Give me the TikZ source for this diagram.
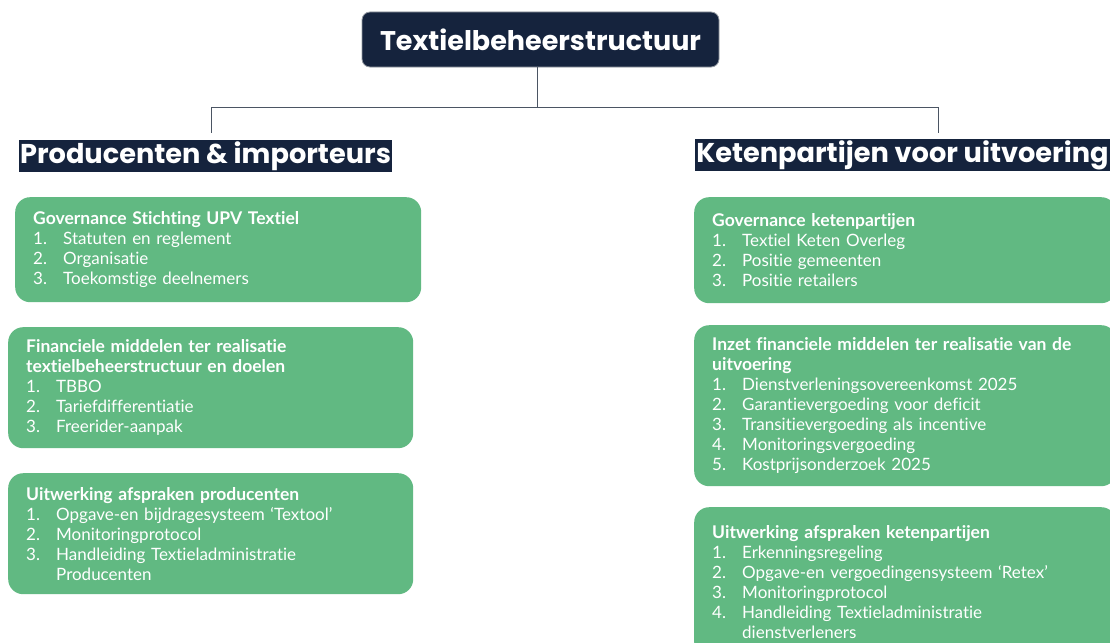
\documentclass[tikz,border=0pt]{standalone}
\usepackage{fontspec}
\setmainfont{Lato}[Ligatures=NoCommon]
\newfontfamily\headfont{Poppins}
\usetikzlibrary{positioning}
\definecolor{navy}{HTML}{15233D}
\definecolor{leaf}{HTML}{61B982}
\definecolor{wire}{HTML}{4B5563}
\tikzset{
  rootbox/.style={rectangle, rounded corners=8pt, draw=wire!60, line width=0.8pt, fill=navy, text=white,
    font=\headfont\bfseries\fontsize{27}{30}\selectfont, minimum width=357pt, minimum height=55pt, inner sep=0pt},
  lanehead/.style={rectangle, fill=navy, text=white,
    font=\headfont\bfseries\fontsize{27.2}{30}\selectfont, inner xsep=1pt, inner ysep=0pt, minimum height=32pt},
  taskbox/.style={rectangle, rounded corners=15pt, fill=leaf, text=white, anchor=north west,
    font=\fontsize{17}{20}\selectfont, align=left, inner xsep=18pt, inner ysep=4pt},
  ln/.style={draw=wire, line width=0.8pt},
}
\newcommand{\TB}[1]{{\bfseries\fontsize{17.5}{20}\selectfont #1}}
\newcommand{\IT}[2]{\makebox[30pt][l]{#1.}#2}
\begin{document}
\begin{tikzpicture}[x=1pt, y=-1pt]
\useasboundingbox[fill=white] (0,0) rectangle (1110,642);
\clip (0,0) rectangle (1110,642);

%% ===== NODES =====
\node[rootbox] (ROOT) at (540.5,39.5) {Textielbeheerstructuur};

% -- heads --
\node[lanehead] (HL) at (205.5,156) {Producenten \& importeurs};
\node[lanehead] (HR) at (902.5,155) {Ketenpartijen voor uitvoering};

% -- producenten --
\node[taskbox, text width=370pt, minimum height=105pt] (P1) at (15,197) {%
  \TB{Governance Stichting UPV Textiel}\\
  \IT{1}{Statuten en reglement}\\
  \IT{2}{Organisatie}\\
  \IT{3}{Toekomstige deelnemers}};
\node[taskbox, text width=369pt, minimum height=121pt] (P2) at (8,327) {%
  \TB{Financiele middelen ter realisatie}\\
  \TB{textielbeheerstructuur en doelen}\\
  \IT{1}{TBBO}\\
  \IT{2}{Tariefdifferentiatie}\\
  \IT{3}{Freerider-aanpak}};
\node[taskbox, text width=369pt, minimum height=121pt] (P3) at (8,473) {%
  \TB{Uitwerking afspraken producenten}\\
  \IT{1}{Opgave-en bijdragesysteem ‘Textool’}\\
  \IT{2}{Monitoringprotocol}\\
  \IT{3}{Handleiding Textieladministratie}\\
  \hspace*{30pt}Producenten};

% -- ketenpartijen --
\node[taskbox, text width=386pt, minimum height=106pt] (K1) at (694,197) {%
  \TB{Governance ketenpartijen}\\
  \IT{1}{Textiel Keten Overleg}\\
  \IT{2}{Positie gemeenten}\\
  \IT{3}{Positie retailers}};
\node[taskbox, text width=386pt, minimum height=161pt] (K2) at (694,325) {%
  \TB{Inzet financiele middelen ter realisatie van de}\\
  \TB{uitvoering}\\
  \IT{1}{Dienstverleningsovereenkomst 2025}\\
  \IT{2}{Garantievergoeding voor deficit}\\
  \IT{3}{Transitievergoeding als incentive}\\
  \IT{4}{Monitoringsvergoeding}\\
  \IT{5}{Kostprijsonderzoek 2025}};
\node[taskbox, text width=386pt, minimum height=150pt] (K3) at (694,507) {%
  \TB{Uitwerking afspraken ketenpartijen}\\
  \IT{1}{Erkenningsregeling}\\
  \IT{2}{Opgave-en vergoedingensysteem ‘Retex’}\\
  \IT{3}{Monitoringprotocol}\\
  \IT{4}{Handleiding Textieladministratie}\\
  \hspace*{30pt}dienstverleners};

%% ===== TREE =====
\coordinate (JN) at (537,107);
\coordinate (LE) at (211,133);
\coordinate (RE) at (938,133);
\draw[ln] (ROOT.south -| JN) -- (JN);
\draw[ln] (JN) -| (LE);
\draw[ln] (JN) -| (RE);
\end{tikzpicture}
\end{document}
